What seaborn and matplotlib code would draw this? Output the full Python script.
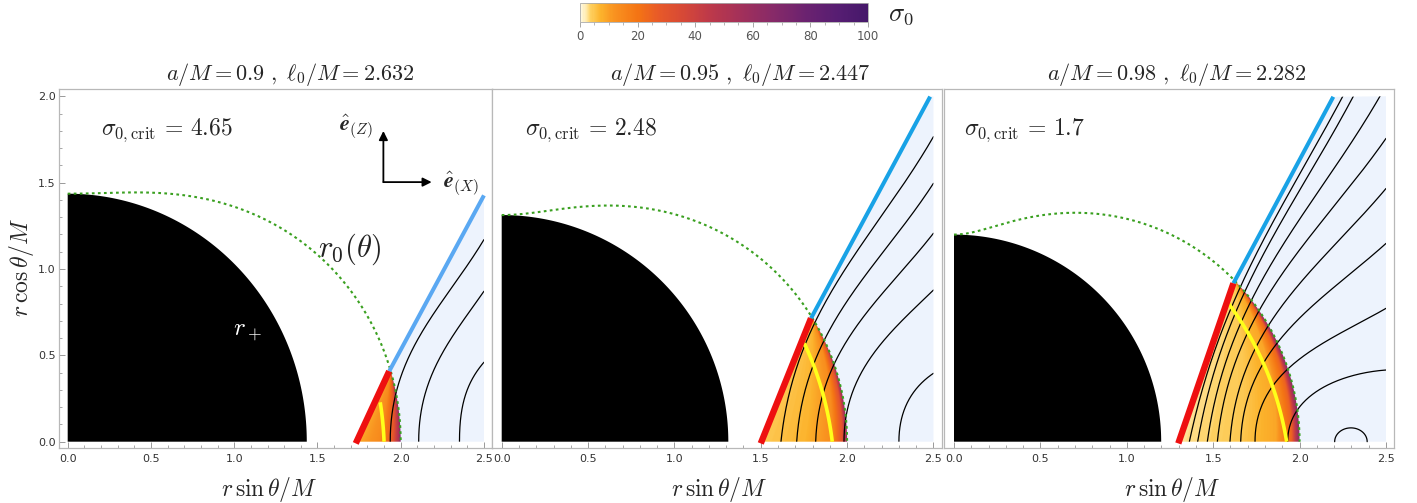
import numpy as np
import matplotlib
matplotlib.use('Agg')
import matplotlib.pyplot as plt
import seaborn as sns
import pandas as pd
from matplotlib.colors import LinearSegmentedColormap, Normalize
from matplotlib.patches import Polygon
from matplotlib.cm import ScalarMappable
from matplotlib.ticker import MultipleLocator
from matplotlib.mathtext import MathTextParser

sns.set_theme(style='white')
plt.rcParams['font.family'] = ['DejaVu Sans']
plt.rcParams['mathtext.fontset'] = 'cm'

# ---------------- data ----------------
spin = [0.9, 0.95, 0.98]
ell0 = [2.632, 2.447, 2.282]
sigma_crit = ['4.65', '2.48', '1.7']
# inner torus edge (red): bottom x, and top point P (where it meets the ergosurface)
red_x0 = [1.73, 1.50, 1.298]
P_x = [1.931, 1.791, 1.617]
P_y = [0.408, 0.7145, 0.917]
# light-cylinder like boundary (blue) end point
blue_end_x = [2.5, 2.481, 2.195]
blue_end_y = [1.426, 1.998, 1.997]
blue_colors = ['#5aa8f2', '#18a2e6', '#18a2e6']
# yellow curve: top point and bottom x
yellow_top_x = [1.877, 1.752, 1.591]
yellow_top_y = [0.228, 0.570, 0.797]
yellow_bot_x = [1.90, 1.914, 1.925]
# torus sigma_0 colouring (fraction across the torus -> sigma_0)
torus_s = [0.0, 0.5, 0.8, 0.93, 1.0]
torus_sigma = [[8, 14, 28, 50, 80],
               [4.5, 7, 13, 30, 70],
               [2.5, 4.5, 9, 25, 70]]
# field lines: foot x on equator, exit point, start / end angles (deg)
fl_x0 = [[1.937, 2.108, 2.353],
         [1.617, 1.708, 1.818, 1.982, 2.300],
         [1.362, 1.410, 1.466, 1.524, 1.597, 1.659, 1.742, 1.931]]
fl_xe = [[2.5, 2.5, 2.5],
         [2.5, 2.5, 2.5, 2.5, 2.5],
         [2.25, 2.311, 2.465, 2.5, 2.5, 2.5, 2.5, 2.5]]
fl_ye = [[1.17, 0.871, 0.46],
         [1.766, 1.496, 1.207, 0.878, 0.396],
         [2.0, 2.0, 2.0, 1.756, 1.466, 1.148, 0.772, 0.415]]
fl_a0 = [[90, 90, 90],
         [84, 86, 88, 90, 90],
         [78, 80, 82, 84, 86, 88, 90, 90]]
fl_a1 = [[58, 54, 48],
         [60, 57, 52, 44, 34],
         [62, 62, 60, 55, 50, 42, 30, 4]]
# closed loop in the last panel
loop_cx, loop_rx, loop_ry = 2.297, 0.094, 0.08

# colour bar
cb_vals = [0, 2, 3.5, 7, 11.5, 20, 27, 35, 44, 56, 67, 79, 90, 100]
cb_cols = ['#fffbe8', '#ffe9a8', '#fed060', '#fcb32c', '#f99320', '#f47414', '#e85a28',
           '#d84a35', '#c03a48', '#a2305a', '#872a68', '#6a2270', '#561d72', '#45186a']
cb_ticks = [0, 20, 40, 60, 80, 100]

# text positions
crit_pos = [(0.20, 1.778), (0.135, 1.776), (0.06, 1.776)]
title_cx = [290, 740, 1177]
xlabel_cx = [269, 719, 1172]

# ---------------- helpers ----------------
cmap = LinearSegmentedColormap.from_list('sig', [(v / 100, c) for v, c in zip(cb_vals, cb_cols)])
norm = Normalize(0, 100)


def ergo(a, th):
    return 1 + np.sqrt(1 - a**2 * np.cos(th)**2)


def bezier(p0, a0, p3, a3, k1=0.4, k2=0.35, n=150):
    p0 = np.array(p0, float); p3 = np.array(p3, float)
    L = np.hypot(*(p3 - p0))
    a0 = np.radians(a0); a3 = np.radians(a3)
    p1 = p0 + k1 * L * np.array([np.cos(a0), np.sin(a0)])
    p2 = p3 - k2 * L * np.array([np.cos(a3), np.sin(a3)])
    t = np.linspace(0, 1, n)[:, None]
    pts = (1 - t)**3 * p0 + 3 * (1 - t)**2 * t * p1 + 3 * (1 - t) * t**2 * p2 + t**3 * p3
    return pts[:, 0], pts[:, 1]


def mt_ok(s):
    try:
        MathTextParser('path').parse(s)
        return True
    except Exception:
        return False


W, H = 1417, 503
fig = plt.figure(figsize=(W / 100, H / 100), dpi=100)
XL = (-0.055, 2.548)
YL = (-0.0365, 2.045)
frame_bottom, frame_top = 448, 88.5
x0px = [67.7, 501.7, 954.0]
sx = [166.5, 172.7, 172.8]

ehat = r'\boldsymbol{e}' if mt_ok(r'$\hat{\boldsymbol{e}}$') else r'\mathbf{e}'

axes = []
for i in range(3):
    left = x0px[i] + XL[0] * sx[i]
    width = (XL[1] - XL[0]) * sx[i]
    ax = fig.add_axes([left / W, (H - frame_bottom) / H, width / W, (frame_bottom - frame_top) / H])
    axes.append(ax)
    a = spin[i]
    rp = 1 + np.sqrt(1 - a**2)

    A = np.array([red_x0[i], 0.0])
    P = np.array([P_x[i], P_y[i]])
    thP = np.arctan2(P[0], P[1])
    th_out = np.linspace(thP, np.pi / 2, 200)
    r_out = ergo(a, th_out)
    ex, ey = r_out * np.sin(th_out), r_out * np.cos(th_out)

    # light blue region
    bl = [tuple(P), (blue_end_x[i], blue_end_y[i])]
    if blue_end_y[i] > 1.9:
        bl.append((2.5, 2.0))
    bl += [(2.5, 0.0)]
    bl += list(zip(ex[::-1], ey[::-1]))
    ax.add_patch(Polygon(bl, closed=True, facecolor='#edf3fd', edgecolor='none', zorder=1))

    # torus coloured by sigma_0
    torus_poly = [tuple(A), tuple(P)] + list(zip(ex, ey))
    tpatch = Polygon(torus_poly, closed=True, facecolor='none', edgecolor='none', transform=ax.transData)
    gx = np.linspace(1.1, 2.05, 500)
    gy = np.linspace(0, 1.05, 500)
    X, Y = np.meshgrid(gx, gy)
    R = np.hypot(X, Y)
    TH = np.arctan2(X, Y)
    d = P - A
    denom = np.sin(TH) * d[1] - np.cos(TH) * d[0]
    r_in = A[0] * d[1] / denom
    s = np.clip((R - r_in) / (ergo(a, TH) - r_in), 0, 1)
    SIG = np.interp(s, torus_s, torus_sigma[i])
    im = ax.imshow(SIG, extent=(gx[0], gx[-1], gy[0], gy[-1]), origin='lower', cmap=cmap, norm=norm,
                   aspect='auto', interpolation='bilinear', zorder=2)
    im.set_clip_path(tpatch)

    # clip region for field lines
    clip_poly = [tuple(A), tuple(P), (blue_end_x[i], blue_end_y[i])]
    if blue_end_y[i] > 1.9:
        clip_poly.append((2.5, 2.0))
    clip_poly.append((2.5, 0.0))
    cpatch = Polygon(clip_poly, closed=True, facecolor='none', edgecolor='none', transform=ax.transData)

    for x0, xe, ye, a0, a1 in zip(fl_x0[i], fl_xe[i], fl_ye[i], fl_a0[i], fl_a1[i]):
        bx, by = bezier((x0, 0.0), a0, (xe, ye), a1)
        n0 = len(ax.lines)
        sns.lineplot(x=bx, y=by, sort=False, estimator=None, color='black', lw=0.9, ax=ax)
        for ln in ax.lines[n0:]:
            ln.set_clip_path(cpatch)
            ln.set_zorder(3)
    if i == 2:
        tt = np.linspace(0, np.pi, 100)
        n0 = len(ax.lines)
        sns.lineplot(x=loop_cx + loop_rx * np.cos(tt), y=loop_ry * np.sin(tt), sort=False,
                     estimator=None, color='black', lw=0.9, ax=ax)
        for ln in ax.lines[n0:]:
            ln.set_zorder(3)

    # black hole horizon
    tq = np.linspace(0, np.pi / 2, 200)
    hole = [(0, 0)] + list(zip(rp * np.sin(tq), rp * np.cos(tq)))
    ax.add_patch(Polygon(hole, closed=True, facecolor='black', edgecolor='none', zorder=2))

    # yellow curve
    rt = np.hypot(yellow_top_x[i], yellow_top_y[i])
    tht = np.arctan2(yellow_top_x[i], yellow_top_y[i])
    ty = np.linspace(tht, np.pi / 2, 80)
    ry = rt + (yellow_bot_x[i] - rt) * (ty - tht) / (np.pi / 2 - tht)
    ax.plot(ry * np.sin(ty), ry * np.cos(ty), color='#ffff1a', lw=2.6, zorder=4, solid_capstyle='butt')

    # ergosurface r0(theta)
    thg = np.linspace(0, np.pi / 2, 300)
    rg = ergo(a, thg)
    ax.plot(rg * np.sin(thg), rg * np.cos(thg), color='#3aa020', lw=1.5, ls=(0, (1.3, 1.6)), zorder=5)

    # blue and red lines
    ax.plot([P[0], blue_end_x[i]], [P[1], blue_end_y[i]], color=blue_colors[i], lw=2.9, zorder=5,
            solid_capstyle='butt')
    ax.plot([A[0], P[0]], [A[1] - 0.01, P[1]], color='#ee1010', lw=4.6, zorder=6, solid_capstyle='butt')

    # text
    ax.text(crit_pos[i][0], crit_pos[i][1], r'$\sigma_{0,\mathrm{crit}}\, =\, %s$' % sigma_crit[i],
            fontsize=17, ha='left', va='baseline', zorder=7)

    ax.set_xlim(*XL)
    ax.set_ylim(*YL)
    for sp in ax.spines.values():
        sp.set_color('#b8b8b8')
        sp.set_linewidth(0.9)
    ax.xaxis.set_major_locator(MultipleLocator(0.5))
    ax.xaxis.set_minor_locator(MultipleLocator(0.1))
    ax.xaxis.set_major_formatter(matplotlib.ticker.FormatStrFormatter('%.1f'))
    ax.tick_params(axis='x', which='both', direction='in', bottom=True, top=False, colors='#999999',
                   labelcolor='#333333', labelsize=8, pad=4)
    ax.tick_params(axis='x', which='major', length=4, width=0.7)
    ax.tick_params(axis='x', which='minor', length=2.2, width=0.6)
    if i == 0:
        ax.yaxis.set_major_locator(MultipleLocator(0.5))
        ax.yaxis.set_minor_locator(MultipleLocator(0.1))
        ax.yaxis.set_major_formatter(matplotlib.ticker.FormatStrFormatter('%.1f'))
        ax.tick_params(axis='y', which='both', direction='in', left=True, right=False, colors='#999999',
                       labelcolor='#333333', labelsize=8, pad=2)
        ax.tick_params(axis='y', which='major', length=4, width=0.7)
        ax.tick_params(axis='y', which='minor', length=2.2, width=0.6)
    else:
        ax.tick_params(axis='y', which='both', left=False, labelleft=False)
    ax.set_xlabel('')
    ax.set_ylabel('')
    ax.grid(False)

    # titles and x labels
    fig.text(title_cx[i] / W, (H - 75) / H, r'$a/M = %s\ ,\ \ell_0/M = %.3f$' % (str(spin[i]), ell0[i]),
             ha='center', va='center', fontsize=16)
    fig.text(xlabel_cx[i] / W, (H - 490) / H, r'$r\,\sin\theta/M$', ha='center', va='center', fontsize=17)

# annotations on first panel
ax = axes[0]
ax.text(1.083, 0.64, r'$r_+$', color='white', fontsize=18, ha='center', va='center', zorder=7)
ax.text(1.696, 1.116, r'$r_0(\theta)$', color='#222222', fontsize=22, ha='center', va='center', zorder=7)
ax.annotate('', xy=(1.896, 1.799), xytext=(1.896, 1.503),
            arrowprops=dict(arrowstyle='-|>', color='black', lw=1.3, mutation_scale=13, shrinkA=0, shrinkB=0),
            zorder=7)
ax.annotate('', xy=(2.186, 1.503), xytext=(1.896, 1.503),
            arrowprops=dict(arrowstyle='-|>', color='black', lw=1.3, mutation_scale=13, shrinkA=0, shrinkB=0),
            zorder=7)
ax.text(1.73, 1.826, r'$\hat{%s}_{(Z)}$' % ehat, fontsize=16, ha='center', va='center', zorder=7)
ax.text(2.363, 1.50, r'$\hat{%s}_{(X)}$' % ehat, fontsize=16, ha='center', va='center', zorder=7)

fig.text(22 / W, (H - 268) / H, r'$r\,\cos\theta/M$', rotation=90, ha='center', va='center', fontsize=17)

# colour bar
cax = fig.add_axes([580 / W, (H - 22) / H, 288 / W, 19 / H])
cb = fig.colorbar(ScalarMappable(norm=norm, cmap=cmap), cax=cax, orientation='horizontal', ticks=cb_ticks)
cb.outline.set_edgecolor('#aaaaaa')
cb.outline.set_linewidth(0.6)
cax.xaxis.set_minor_locator(MultipleLocator(5))
cax.tick_params(axis='x', which='both', direction='out', colors='#999999', labelcolor='#555555',
                labelsize=8.5, pad=2)
cax.tick_params(axis='x', which='major', length=3.5, width=0.6)
cax.tick_params(axis='x', which='minor', length=2.5, width=0.5)
fig.text(888 / W, (H - 14) / H, r'$\sigma_0$', fontsize=19, ha='left', va='center')

fig.savefig('out.png', dpi=100)
